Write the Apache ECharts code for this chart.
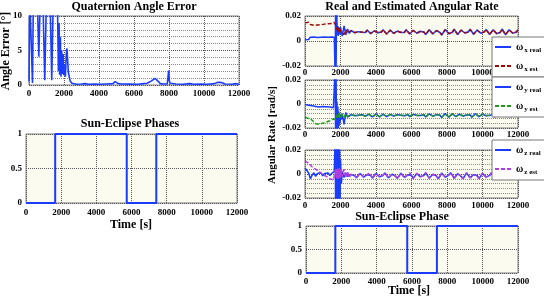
<!DOCTYPE html>
<html>
<head>
<meta charset="utf-8">
<script src="https://cdn.jsdelivr.net/npm/echarts@6/dist/echarts.min.js"></script>
<style>
html,body{margin:0;padding:0;background:#fff;}
#chart{width:544px;height:298px;}
</style>
</head>
<body>
<div id="chart"></div>
<script>
// quaternion angle error [deg]
const errTime = [0,40,150,200,250,470,560,650,790,900,1000,1200,1300,1390,1620,1680,1720,1750,1790,1830,1870,1910,1950,1990,2040,2080,2130,2170,2210,2250,2300,2350,2400,2450,2500,2700,3000,3200,3400,3800,4000,4400,4800,4920,5000,5100,5300,5800,6200,6550,6650,6750,6850,7000,7100,7200,7300,7400,7500,7700,7900,7980,8020,8060,8100,8400,8800,9200,9400,9800,10200,10600,10800,10900,11000,11200,11600,11800,12000];
const errValue = [0.5,13,13,0.3,13,13,4.1,13,13,0.7,13,13,0.7,13,13,2.0,9,1.5,7,1.2,5,1.6,4.5,1.4,3,1.2,4.5,5.3,3.5,1.8,1.2,0.6,0.4,0.25,0.15,0.1,0.15,0.2,0.1,0.12,0.1,0.15,0.2,0.5,0.35,0.2,0.15,0.12,0.1,0.2,0.45,0.25,0.3,0.6,0.85,0.95,0.8,0.5,0.2,0.15,0.15,2.1,0.6,0.25,0.2,0.15,0.1,0.2,0.1,0.15,0.1,0.2,0.4,0.55,0.35,0.15,0.1,0.2,0.1];

// sun / eclipse phase
const phaseTime = [0,1660,1660,5730,5730,7410,7410,12000];
const phaseValue = [0,0,1,1,0,0,1,1];

// angular rate [rad/s]
const rateTime = [0,100,200,300,400,500,600,700,800,900,1000,1100,1200,1300,1400,1500,1600,
  1650,1700,1725,1750,1775,1800,1825,1850,1875,1900,1925,1950,1975,2000,2050,
  2100,2200,2300,2400,
  2500,2600,2700,2800,2900,3000,3100,3200,3300,3400,
  3500,3600,3700,3800,3900,4000,4100,4200,4300,4400,
  4500,4600,4700,4800,4900,5000,5100,5200,5300,5400,
  5500,5600,5700,5800,5900,6000,6100,6200,6300,6400,
  6500,6600,6700,6800,6900,7000,7100,7200,7300,7400,
  7500,7600,7700,7800,7900,8000,8100,8200,8300,8400,
  8500,8600,8700,8800,8900,9000,9100,9200,9300,9400,
  9500,9600,9700,9800,9900,10000,10100,10200,10300,10400,
  10500,10600,10700,10800,10900,11000,11100,11200,11300,11400,
  11500,11600,11700,11800,11900,12000];

const wxReal = [0.0010,0.0025,0.0012,0.0030,0.0015,0.0032,0.0018,0.0028,0.0016,0.0030,0.0020,0.0032,0.0022,0.0030,0.0024,0.0032,0.0026,
  0.003,-0.03,0.03,-0.03,0.03,0.016,0.005,0.012,0.004,0.011,0.006,0.010,0.005,0.011,0.007,
  0.0040,0.0120,0.0050,0.0095,
  0.0060,0.0085,0.0090,0.0065,0.0055,0.0075,0.0090,0.0070,0.0055,0.0068,
  0.0088,0.0080,0.0058,0.0060,0.0082,0.0088,0.0066,0.0054,0.0072,0.0090,
  0.0074,0.0055,0.0065,0.0088,0.0082,0.0060,0.0058,0.0080,0.0090,0.0068,
  0.0054,0.0070,0.0090,0.0076,0.0056,0.0062,0.0086,0.0084,0.0062,0.0056,
  0.0078,0.0090,0.0070,0.0052,0.0066,0.0090,0.0080,0.0056,0.0058,0.0084,
  0.0092,0.0068,0.0048,0.0064,0.0092,0.0086,0.0058,0.0046,0.0070,0.0094,
  0.0078,0.0052,0.0058,0.0088,0.0090,0.0064,0.0050,0.0072,0.0094,0.0078,
  0.0054,0.0060,0.0088,0.0088,0.0062,0.0052,0.0074,0.0092,0.0074,0.0052,
  0.0062,0.0090,0.0088,0.0058,0.0046,0.0070,0.0096,0.0080,0.0050,0.0056,
  0.0090,0.0092,0.0062,0.0050,0.0072,0.0090];
const wxEst = [0.0145,0.0135,0.0150,0.0132,0.0142,0.0125,0.0138,0.0128,0.0140,0.0130,0.0142,0.0135,0.0148,0.0138,0.0150,0.0140,0.0152,
  0.0148,0.0150,0.0135,0.0120,0.0105,0.0090,0.0115,0.0100,0.0070,0.0060,0.0085,0.0110,0.0095,0.0075,0.0060,
  0.0090,0.0052,0.0090,0.0062,
  0.0062,0.0083,0.0088,0.0068,0.0057,0.0073,0.0088,0.0072,0.0057,0.0066,
  0.0086,0.0082,0.0060,0.0058,0.0080,0.0088,0.0068,0.0056,0.0070,0.0088,
  0.0076,0.0057,0.0063,0.0086,0.0084,0.0062,0.0056,0.0078,0.0088,0.0070,
  0.0056,0.0068,0.0088,0.0078,0.0058,0.0060,0.0084,0.0086,0.0064,0.0055,
  0.0076,0.0088,0.0072,0.0054,0.0064,0.0088,0.0082,0.0058,0.0057,0.0082,
  0.0090,0.0070,0.0050,0.0062,0.0090,0.0088,0.0060,0.0048,0.0068,0.0092,
  0.0080,0.0054,0.0056,0.0086,0.0092,0.0066,0.0052,0.0070,0.0092,0.0080,
  0.0056,0.0058,0.0086,0.0090,0.0064,0.0054,0.0072,0.0090,0.0076,0.0054,
  0.0060,0.0088,0.0090,0.0060,0.0048,0.0068,0.0094,0.0082,0.0052,0.0054,
  0.0088,0.0094,0.0064,0.0052,0.0070,0.0088];
const wyReal = [-0.0005,0.0005,-0.0010,0.0000,-0.0015,-0.0005,-0.0020,-0.0010,-0.0025,-0.0015,-0.0020,-0.0030,-0.0022,-0.0028,-0.0025,-0.0030,-0.0032,
  -0.003,0.03,-0.03,0.03,-0.03,0.002,-0.022,-0.002,-0.020,-0.006,-0.018,-0.008,-0.016,-0.009,-0.013,
  -0.0080,-0.0170,-0.0070,-0.0110,
  -0.0105,-0.0088,-0.0082,-0.0098,-0.0108,-0.0094,-0.0082,-0.0090,-0.0106,-0.0100,
  -0.0084,-0.0086,-0.0102,-0.0108,-0.0092,-0.0082,-0.0094,-0.0108,-0.0098,-0.0084,
  -0.0090,-0.0106,-0.0104,-0.0086,-0.0084,-0.0100,-0.0108,-0.0090,-0.0080,-0.0094,
  -0.0110,-0.0098,-0.0082,-0.0088,-0.0106,-0.0104,-0.0086,-0.0080,-0.0096,-0.0110,
  -0.0096,-0.0080,-0.0090,-0.0108,-0.0102,-0.0082,-0.0084,-0.0102,-0.0108,-0.0088,
  -0.0078,-0.0094,-0.0112,-0.0096,-0.0080,-0.0090,-0.0110,-0.0100,-0.0080,-0.0086,
  -0.0106,-0.0106,-0.0084,-0.0082,-0.0100,-0.0110,-0.0092,-0.0078,-0.0090,-0.0110,
  -0.0100,-0.0080,-0.0086,-0.0106,-0.0106,-0.0084,-0.0080,-0.0098,-0.0110,-0.0094,
  -0.0078,-0.0088,-0.0108,-0.0104,-0.0082,-0.0080,-0.0100,-0.0108,-0.0088,-0.0076,
  -0.0090,-0.0108,-0.0098,-0.0078,-0.0082,-0.0098];
const wyEst = [-0.0110,-0.0105,-0.0120,-0.0115,-0.0135,-0.0150,-0.0165,-0.0160,-0.0170,-0.0165,-0.0160,-0.0155,-0.0150,-0.0145,-0.0140,-0.0130,-0.0125,
  -0.0120,-0.0115,-0.0130,-0.0120,-0.0095,-0.0110,-0.0080,-0.0120,-0.0090,-0.0070,-0.0100,-0.0120,-0.0090,-0.0075,-0.0110,
  -0.0085,-0.0112,-0.0082,-0.0105,
  -0.0102,-0.0090,-0.0084,-0.0096,-0.0106,-0.0096,-0.0084,-0.0088,-0.0104,-0.0102,
  -0.0086,-0.0084,-0.0100,-0.0106,-0.0094,-0.0084,-0.0092,-0.0106,-0.0100,-0.0086,
  -0.0088,-0.0104,-0.0106,-0.0088,-0.0082,-0.0098,-0.0106,-0.0092,-0.0082,-0.0092,
  -0.0108,-0.0100,-0.0084,-0.0086,-0.0104,-0.0106,-0.0088,-0.0082,-0.0094,-0.0108,
  -0.0098,-0.0082,-0.0088,-0.0106,-0.0104,-0.0084,-0.0082,-0.0100,-0.0108,-0.0090,
  -0.0080,-0.0092,-0.0110,-0.0098,-0.0082,-0.0088,-0.0108,-0.0102,-0.0082,-0.0084,
  -0.0104,-0.0108,-0.0086,-0.0080,-0.0098,-0.0110,-0.0094,-0.0080,-0.0088,-0.0108,
  -0.0102,-0.0082,-0.0084,-0.0104,-0.0108,-0.0086,-0.0078,-0.0096,-0.0110,-0.0096,
  -0.0080,-0.0086,-0.0106,-0.0106,-0.0084,-0.0078,-0.0098,-0.0110,-0.0090,-0.0078,
  -0.0088,-0.0106,-0.0100,-0.0080,-0.0080,-0.0096];
const wzReal = [0.0050,0.0045,0.0010,-0.0040,-0.0010,0.0010,-0.0020,0.0005,-0.0010,0.0010,-0.0015,0.0005,-0.0010,0.0008,-0.0012,0.0005,-0.0010,
  0.002,0.03,-0.03,0.03,-0.03,0.03,-0.03,0.03,-0.03,0.025,-0.028,0.020,-0.024,0.012,-0.008,
  0.0020,-0.0030,0.0010,-0.0020,
  -0.0030,-0.0005,0.0008,-0.0015,-0.0032,-0.0018,0.0005,-0.0002,-0.0026,-0.0030,
  -0.0006,0.0008,-0.0012,-0.0034,-0.0022,0.0004,0.0002,-0.0024,-0.0034,-0.0010,
  0.0008,-0.0008,-0.0032,-0.0028,-0.0002,0.0006,-0.0018,-0.0036,-0.0016,0.0006,
  -0.0002,-0.0028,-0.0032,-0.0006,0.0008,-0.0012,-0.0036,-0.0024,0.0004,0.0002,
  -0.0024,-0.0036,-0.0010,0.0010,-0.0006,-0.0034,-0.0030,-0.0002,0.0008,-0.0016,
  -0.0038,-0.0020,0.0008,0.0000,-0.0028,-0.0036,-0.0008,0.0010,-0.0010,-0.0036,
  -0.0028,0.0002,0.0006,-0.0020,-0.0038,-0.0016,0.0008,-0.0004,-0.0032,-0.0034,
  -0.0004,0.0008,-0.0014,-0.0038,-0.0024,0.0004,0.0002,-0.0026,-0.0038,-0.0012,
  0.0010,-0.0008,-0.0036,-0.0030,-0.0002,0.0008,-0.0018,-0.0040,-0.0018,0.0008,
  -0.0004,-0.0032,-0.0032,-0.0004,0.0006,-0.0014];
const wzEst = [0.0110,0.0105,0.0090,0.0085,0.0060,0.0065,0.0040,0.0045,0.0020,0.0010,-0.0005,-0.0010,-0.0020,-0.0030,-0.0040,-0.0055,-0.0050,
  -0.006,-0.004,0.004,-0.003,0.004,-0.004,0.005,-0.003,0.004,-0.004,0.005,-0.003,0.004,-0.003,0.004,
  -0.0020,0.0040,-0.0030,0.0020,
  -0.0028,-0.0002,0.0010,-0.0012,-0.0034,-0.0020,0.0006,0.0002,-0.0024,-0.0032,
  -0.0008,0.0010,-0.0010,-0.0036,-0.0024,0.0006,0.0004,-0.0022,-0.0036,-0.0012,
  0.0010,-0.0006,-0.0034,-0.0030,-0.0004,0.0008,-0.0016,-0.0038,-0.0018,0.0008,
  0.0000,-0.0030,-0.0034,-0.0008,0.0010,-0.0010,-0.0038,-0.0026,0.0006,0.0004,
  -0.0022,-0.0038,-0.0012,0.0012,-0.0004,-0.0036,-0.0032,-0.0004,0.0010,-0.0014,
  -0.0040,-0.0022,0.0010,0.0002,-0.0026,-0.0038,-0.0010,0.0012,-0.0008,-0.0038,
  -0.0030,0.0004,0.0008,-0.0018,-0.0040,-0.0018,0.0010,-0.0002,-0.0030,-0.0036,
  -0.0006,0.0010,-0.0012,-0.0040,-0.0026,0.0006,0.0004,-0.0024,-0.0040,-0.0014,
  0.0012,-0.0006,-0.0038,-0.0032,-0.0004,0.0010,-0.0016,-0.0042,-0.0020,0.0010,
  -0.0002,-0.0034,-0.0034,-0.0006,0.0008,-0.0012];

const rateSeries = {wxReal, wxEst, wyReal, wyEst, wzReal, wzEst};
Object.keys(rateSeries).forEach(function (k) {
  if (rateSeries[k].length !== rateTime.length) throw new Error(k + ' has ' + rateSeries[k].length + ' vs ' + rateTime.length);
});

const FONT = '"Liberation Serif", "DejaVu Serif", serif';
const BLUE = '#1a3cff';
const BEIGE = '#fcfbf0';
const SOLID_ICON = 'path://M0,0h16v2h-16z';
const DASH_ICON = 'path://M0,0h4v2h-4zM6,0h4v2h-4zM12,0h4v2h-4z';

function zip(ts, vs) { return ts.map(function (t, i) { return [t, vs[i]]; }); }
function plain(v) { return String(v); }

const grids = [
  {left: 29, top: 16, width: 210, height: 69, backgroundColor: '#fff'},
  {left: 26, top: 134, width: 211, height: 69, backgroundColor: BEIGE},
  {left: 305, top: 16, width: 213, height: 50, backgroundColor: BEIGE},
  {left: 305, top: 80, width: 213, height: 48, backgroundColor: BEIGE},
  {left: 305, top: 150, width: 213, height: 48, backgroundColor: BEIGE},
  {left: 306, top: 226, width: 212, height: 47, backgroundColor: BEIGE}
].map(function (g) { return Object.assign({show: true, borderColor: '#808080', borderWidth: 1, containLabel: false}, g); });

const labelMargins = [4, 5, 2, 2, 3, 4];
const xAxes = grids.map(function (g, i) {
  return {
    type: 'value', gridIndex: i, min: 0, max: 12000, interval: 2000,
    axisLine: {show: false}, axisTick: {show: false},
    axisLabel: {fontFamily: FONT, fontWeight: 'bold', fontSize: 9, color: '#000', margin: labelMargins[i], formatter: plain},
    splitLine: {show: true, lineStyle: {type: 'dotted', color: '#555', width: 1}}
  };
});

function yAxis(i, min, max, interval, minor) {
  return {
    type: 'value', gridIndex: i, min: min, max: max, interval: interval,
    axisLine: {show: false}, axisTick: {show: false},
    axisLabel: {fontFamily: FONT, fontWeight: 'bold', fontSize: 9, color: '#000', margin: 4, formatter: plain},
    splitLine: {show: true, lineStyle: {type: 'dotted', color: '#555', width: 1}},
    minorTick: {show: false, splitNumber: 5},
    minorSplitLine: {show: minor, lineStyle: {type: 'dotted', color: '#8a8a8a', width: 1}}
  };
}
const yAxes = [
  yAxis(0, 0, 10, 5, true),
  yAxis(1, 0, 1, 0.5, false),
  yAxis(2, -0.02, 0.02, 0.02, false),
  yAxis(3, -0.02, 0.02, 0.02, true),
  yAxis(4, -0.02, 0.02, 0.02, true),
  yAxis(5, 0, 1, 0.5, false)
];
yAxes[0].axisLabel.margin = 7;

function line(name, i, data, color, dashed, width) {
  return {
    name: name, type: 'line', xAxisIndex: i, yAxisIndex: i, data: data,
    symbol: 'none', animation: false, silent: true,
    lineStyle: {color: color, width: width || 1.5, type: dashed ? [4, 2] : 'solid'},
    itemStyle: {color: color}
  };
}

const series = [
  line('angle', 0, zip(errTime, errValue), BLUE, false, 1.6),
  Object.assign(line('phase1', 1, zip(phaseTime, phaseValue), BLUE, false, 2), {clip: false}),
  line('ω x real', 2, zip(rateTime, wxReal), BLUE, false, 1.5),
  line('ω x est', 2, zip(rateTime, wxEst), '#9b0d0d', true, 1.5),
  line('ω y real', 3, zip(rateTime, wyReal), BLUE, false, 1.5),
  line('ω y est', 3, zip(rateTime, wyEst), '#1f9a1f', true, 1.5),
  line('ω z real', 4, zip(rateTime, wzReal), BLUE, false, 1.5),
  line('ω z est', 4, zip(rateTime, wzEst), '#b23ee0', true, 1.5),
  Object.assign(line('phase2', 5, zip(phaseTime, phaseValue), BLUE, false, 2), {clip: false})
];

function legend(names, top) {
  return {
    data: [{name: names[0], icon: SOLID_ICON}, {name: names[1], icon: DASH_ICON}],
    left: 492, top: top, orient: 'vertical',
    backgroundColor: '#fff', borderColor: '#777', borderWidth: 1,
    padding: [3, 14, 4, 3], itemGap: 5, itemWidth: 16, itemHeight: 2,
    selectedMode: false,
    formatter: function (n) { return '{w|ω}{s|' + n.slice(2) + '}'; },
    textStyle: {
      rich: {
        w: {fontFamily: FONT, fontWeight: 'bold', fontSize: 10, color: '#000', lineHeight: 12},
        s: {fontFamily: FONT, fontWeight: 'bold', fontSize: 7, color: '#000', padding: [7, 0, 0, 1], lineHeight: 12}
      }
    }
  };
}

function text(str, x, y, size, rot) {
  return {
    type: 'text', x: x, y: y, rotation: rot || 0, silent: true,
    style: {text: str, font: 'bold ' + size + 'px ' + FONT, fill: '#000', textAlign: 'center', textVerticalAlign: 'middle'}
  };
}

const chart = echarts.init(document.getElementById('chart'), null, {renderer: 'canvas'});
chart.setOption({
  animation: false,
  backgroundColor: '#fff',
  grid: grids,
  xAxis: xAxes,
  yAxis: yAxes,
  series: series,
  legend: [
    legend(['ω x real', 'ω x est'], 37),
    legend(['ω y real', 'ω y est'], 77),
    legend(['ω z real', 'ω z est'], 140)
  ],
  graphic: [
    text('Quaternion Angle Error', 134, 7, 12),
    text('Sun-Eclipse Phases', 130, 124, 12),
    text('Real and Estimated Angular Rate', 412, 7, 12),
    text('Sun-Eclipse Phase', 402, 217, 12),
    text('Time [s]', 131, 225, 12),
    text('Time [s]', 409, 291, 12),
    text('Angle Error [°]', 6, 51, 12, Math.PI / 2),
    text('Angular Rate [rad/s]', 272, 135, 11, Math.PI / 2)
  ]
});
</script>
</body>
</html>
